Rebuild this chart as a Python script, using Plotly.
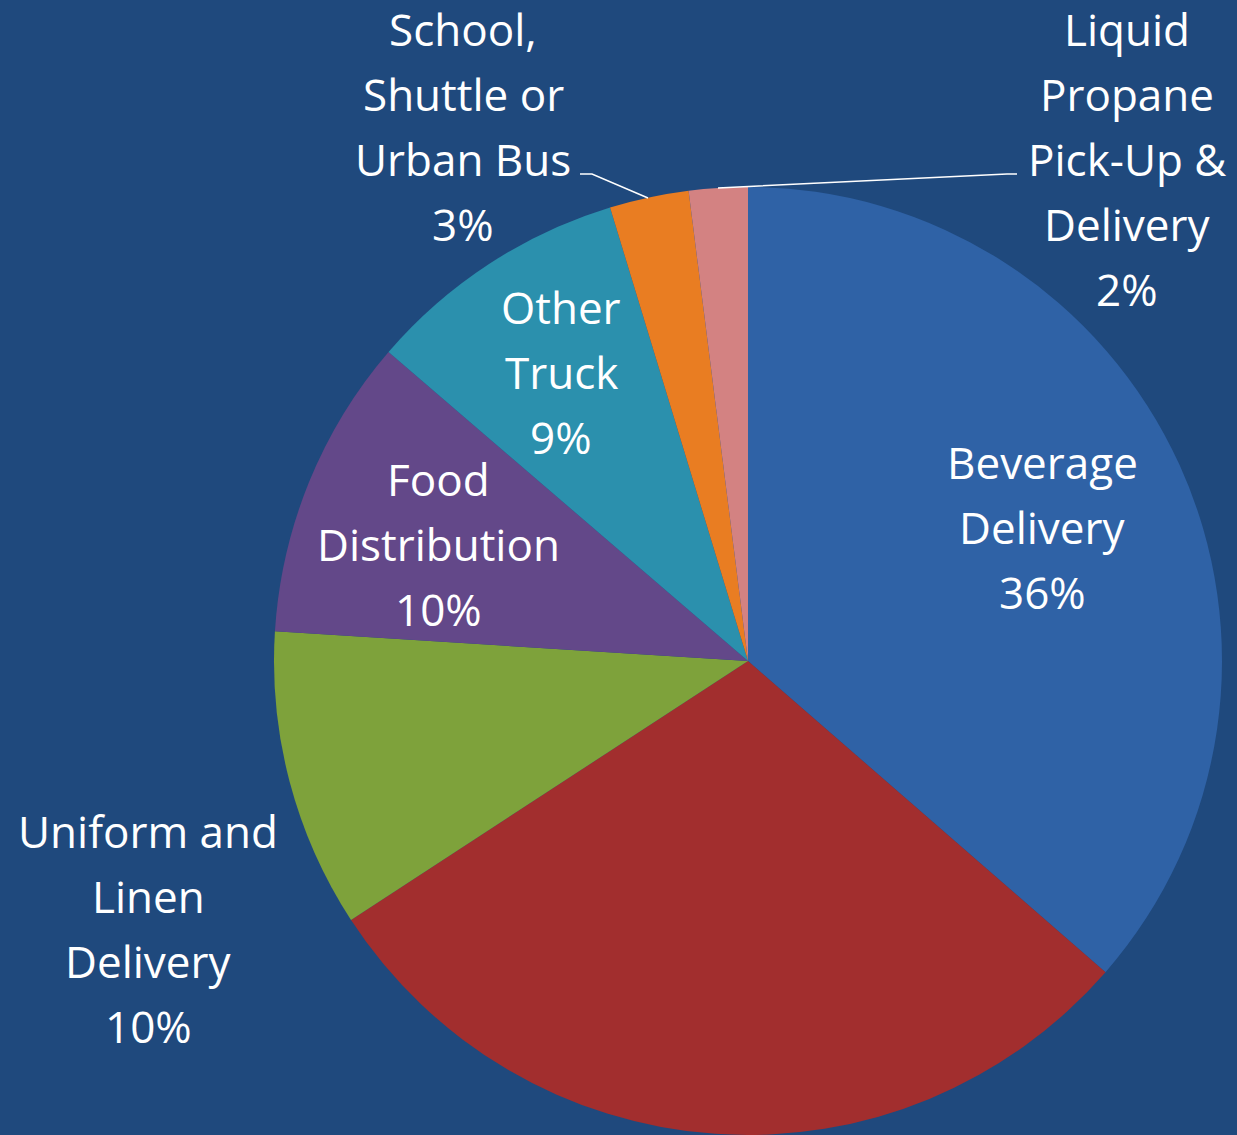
import plotly.graph_objects as go

# ---- data ----
categories = [
    "Beverage Delivery",
    "Unlabeled",
    "Uniform and Linen Delivery",
    "Food Distribution",
    "Other Truck",
    "School, Shuttle or Urban Bus",
    "Liquid Propane Pick-Up & Delivery",
]
values = [36.4, 29.4, 10.2, 10.3, 9.0, 2.7, 2.0]
label_lines = [
    ["Beverage", "Delivery"],
    None,
    ["Uniform and", "Linen", "Delivery"],
    ["Food", "Distribution"],
    ["Other", "Truck"],
    ["School,", "Shuttle or", "Urban Bus"],
    ["Liquid", "Propane", "Pick-Up &", "Delivery"],
]
colors = ["#2F62A6", "#A22E2E", "#7EA23B", "#634889", "#2B90AD", "#E97D22", "#D38282"]

W, H = 1237, 1135
BG = "#1F497D"

# label placement (pixel: center x, first line y), style only
label_pos = {
    0: (1042, 462),
    2: (148, 831),
    3: (438, 479),
    4: (561, 307),
    5: (463, 29),
    6: (1127, 29),
}
PITCH = 65
FONT = dict(family="'Open Sans', Lato, sans-serif", size=44, color="white")

total = sum(values)

fig = go.Figure()
fig.add_trace(go.Pie(
    labels=categories,
    values=values,
    sort=False,
    direction="clockwise",
    rotation=0,
    marker=dict(colors=colors, line=dict(width=0)),
    textinfo="none",
    hoverinfo="label+percent",
    showlegend=False,
    domain=dict(x=[(748 - 474) / W, (748 + 474) / W],
                y=[1 - 1135 / H, 1 - 187 / H]),
))

annotations = []
for i, lines in enumerate(label_lines):
    if lines is None:
        continue
    pct = f"{round(values[i] / total * 100)}%"
    all_lines = lines + [pct]
    cx, y0 = label_pos[i]
    for k, t in enumerate(all_lines):
        annotations.append(dict(
            x=cx / W, y=1 - (y0 + k * PITCH) / H,
            xref="paper", yref="paper",
            text=t, showarrow=False,
            xanchor="center", yanchor="middle",
            font=FONT,
        ))

# leader lines
shapes = [
    dict(type="path", xref="paper", yref="paper",
         path=f"M {580/W} {1-174/H} L {592/W} {1-174/H} L {648/W} {1-198/H}",
         line=dict(color="white", width=1.5)),
    dict(type="path", xref="paper", yref="paper",
         path=f"M {718/W} {1-188/H} L {1007/W} {1-174/H} L {1017/W} {1-174/H}",
         line=dict(color="white", width=1.5)),
]

fig.update_layout(
    width=W, height=H,
    margin=dict(l=0, r=0, t=0, b=0),
    paper_bgcolor=BG, plot_bgcolor=BG,
    annotations=annotations,
    shapes=shapes,
)

fig.write_html("out.html")
